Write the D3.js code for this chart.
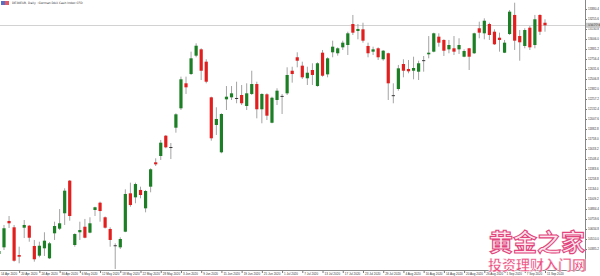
<!DOCTYPE html>
<html>
<head>
<meta charset="utf-8">
<script src="https://cdn.jsdelivr.net/npm/d3@7"></script>
<style>
	body { margin: 0; background: #fff; }
	svg { display: block; font-family: "DejaVu Sans", sans-serif; }
</style>
</head>
<body>
<div id="chart"></div>
<script>
// daily candles, first one is cut off at the left edge (index -1)
const openVals = [10323, 10406, 10735, 10656, 10310, 10651, 10676, 10423, 10302, 10394, 10269, 10581, 10639, 10831, 11238, 10435, 10594, 10663, 10589, 10872,
	10963, 10781, 10635, 10432, 10406, 10601, 11080, 11030, 11122, 10893, 11163, 11467, 11546, 11799, 11658, 11899, 12141, 12453, 12569, 12798,
	12877, 12723, 12278, 11933, 11592, 12253, 12278, 12270, 12307, 12170, 12320, 12444, 12129, 12316, 11961, 12245, 12296, 12328, 12610, 12778,
	12673, 12516, 12619, 12419, 12835, 12565, 12840, 12828, 12902, 12931, 13193, 13106, 13127, 12919, 12848, 12890, 12753, 12828, 12305, 12382,
	12694, 12632, 12610, 12598, 12742, 12815, 12848, 13035, 12994, 12877, 12890, 12877, 12785, 12890, 12828, 13140, 13077, 13193, 13097, 13022,
	12835, 13068, 13306, 13043, 12919, 13147, 12931, 13306, 13209];
const highVals = [10398, 10685, 10797, 10685, 10414, 10747, 10685, 10498, 10476, 10594, 10473, 10726, 10884, 11143, 11246, 10581, 10726, 10760, 10781, 10913,
	10976, 10791, 10656, 10456, 10531, 11130, 11213, 11213, 11163, 11122, 11392, 11517, 11746, 11808, 11708, 12079, 12536, 12536, 12848, 12952,
	12890, 12753, 12286, 12154, 12079, 12419, 12419, 12473, 12432, 12453, 12610, 12473, 12328, 12328, 12286, 12391, 12320, 12653, 12660, 12840,
	12723, 12660, 12703, 12715, 12869, 12778, 12985, 12902, 12985, 13097, 13306, 13193, 13209, 12960, 12910, 12902, 12869, 12835, 12453, 12682,
	12753, 12744, 12785, 12735, 12794, 13043, 13085, 13077, 13002, 12994, 13043, 13015, 12877, 12895, 13085, 13222, 13264, 13209, 13127, 13085,
	12994, 13368, 13459, 13118, 13140, 13168, 13306, 13314, 13252];
const lowVals = [10285, 10373, 10647, 10227, 10207, 10522, 10476, 10227, 10282, 10298, 10260, 10498, 10622, 10685, 10738, 10414, 10498, 10519, 10581, 10797,
	10726, 10641, 10414, 10136, 10385, 10595, 10913, 10956, 11018, 10843, 11093, 11421, 11496, 11642, 11508, 11837, 12120, 12320, 12557, 12778,
	12494, 12453, 11737, 11808, 11580, 12120, 12245, 12204, 12182, 12120, 12307, 12016, 11954, 11995, 11954, 12182, 12070, 12307, 12461, 12653,
	12507, 12432, 12432, 12411, 12536, 12528, 12778, 12798, 12869, 12806, 13056, 13002, 12960, 12778, 12806, 12744, 12735, 12245, 12204, 12361,
	12528, 12578, 12503, 12494, 12598, 12765, 12840, 12910, 12794, 12828, 12806, 12819, 12778, 12619, 12819, 13015, 13002, 12994, 12931, 12848,
	12830, 13056, 12869, 12735, 12890, 12869, 12890, 13056, 13097];
const closeVals = [10360, 10644, 10706, 10239, 10289, 10685, 10526, 10257, 10426, 10489, 10456, 10672, 10706, 11113, 10797, 10572, 10622, 10526, 10706, 10906,
	10859, 10651, 10498, 10432, 10510, 11072, 10934, 11196, 11059, 11109, 11380, 11442, 11712, 11654, 11658, 12066, 12503, 12403, 12765, 12922,
	12610, 12473, 11767, 12008, 12070, 12286, 12328, 12270, 12204, 12328, 12444, 12129, 12320, 12049, 12273, 12361, 12296, 12557, 12569, 12735,
	12528, 12585, 12557, 12703, 12548, 12765, 12910, 12890, 12960, 13077, 13085, 13131, 12985, 12828, 12877, 12778, 12860, 12453, 12305, 12640,
	12610, 12603, 12644, 12703, 12742, 12835, 13077, 12960, 12860, 12931, 12848, 12931, 12856, 12785, 13077, 13085, 13234, 13056, 12940, 12994,
	12960, 13347, 12985, 12965, 13118, 12902, 13252, 13097, 13177];

const dateLabels = ["14 Apr 2020", "20 Apr 2020", "24 Apr 2020", "30 Apr 2020", "6 May 2020", "12 May 2020", "18 May 2020", "22 May 2020",
	"28 May 2020", "3 Jun 2020", "9 Jun 2020", "15 Jun 2020", "19 Jun 2020", "25 Jun 2020", "1 Jul 2020", "7 Jul 2020", "13 Jul 2020",
	"17 Jul 2020", "23 Jul 2020", "29 Jul 2020", "4 Aug 2020", "10 Aug 2020", "14 Aug 2020", "20 Aug 2020", "26 Aug 2020", "1 Sep 2020",
	"7 Sep 2020", "11 Sep 2020"];
const priceTicks = [13380.4, 13255.6, 13130.8, 13006.0, 12881.2, 12756.4, 12631.6, 12506.8, 12382.0, 12257.2, 12132.4, 12007.6, 11882.8,
	11758.0, 11633.2, 11508.4, 11383.6, 11258.8, 11134.0, 11009.2, 10884.4, 10759.6, 10634.8, 10510.0, 10385.2];

const title = "DE30EUR, Daily : German DAX Cash Index CFD";

var width = 600, height = 276;
var plotRight = 585, plotBottom = 270;

var svg = d3.select("#chart").append("svg")
	.attr("width", width)
	.attr("height", height);

var candles = openVals.map((o, i) => ({
	i: i - 1, o: o, h: highVals[i], l: lowVals[i], c: closeVals[i]
}));

var x = d3.scaleLinear().domain([-1, 107]).range([-1.06, 545]);
var y = d3.scaleLinear().domain([10385.2, 13380.4]).range([249, 9]);

svg.append("defs").append("clipPath").attr("id", "plot")
	.append("rect").attr("x", 0).attr("y", 0).attr("width", plotRight).attr("height", plotBottom);

var plot = svg.append("g").attr("clip-path", "url(#plot)");

// bid line
var last = closeVals[closeVals.length - 1];
plot.append("line")
	.attr("x1", 0).attr("x2", plotRight)
	.attr("y1", Math.round(y(last)) + 0.5).attr("y2", Math.round(y(last)) + 0.5)
	.attr("stroke", "#d2d2d2").attr("stroke-width", 1);

var g = plot.selectAll("g.candle").data(candles).enter()
	.append("g").attr("class", "candle");

g.append("line")
	.attr("x1", d => x(d.i)).attr("x2", d => x(d.i))
	.attr("y1", d => y(d.h)).attr("y2", d => y(d.l))
	.attr("stroke", "#9a9a9a").attr("stroke-width", 0.9);

function bodyColor(d) {
	if (Math.abs(d.o - d.c) < 10) return "#3a3a3a";
	return d.c > d.o ? "#1d7f25" : "#e11f1f";
}

g.append("rect")
	.attr("x", d => x(d.i) - 1.6)
	.attr("width", 3.2)
	.attr("y", d => y(Math.max(d.o, d.c)))
	.attr("height", d => Math.max(1, y(Math.min(d.o, d.c)) - y(Math.max(d.o, d.c))))
	.attr("fill", bodyColor);

// price axis on the right
var yAxis = d3.axisRight(y).tickValues(priceTicks).tickSize(2).tickFormat(d3.format(".1f"));
var ya = svg.append("g").attr("transform", "translate(" + plotRight + ",0)").call(yAxis);
ya.select(".domain").remove();
ya.selectAll("line").attr("stroke", "#777");
ya.selectAll("text").attr("x", 3).attr("font-size", 3).attr("fill", "#333");

svg.append("line")
	.attr("x1", plotRight + 0.5).attr("x2", plotRight + 0.5)
	.attr("y1", 0).attr("y2", plotBottom + 0.5)
	.attr("stroke", "#888");

// bid label
var by = y(last);
svg.append("rect")
	.attr("x", plotRight + 1).attr("y", by - 2.5).attr("width", 14).attr("height", 5)
	.attr("fill", "#c8c8c8");
svg.append("text")
	.attr("x", plotRight + 3).attr("y", by + 1)
	.attr("font-size", 3).attr("fill", "#222")
	.text(last.toFixed(1));

// time axis
var tickIdx = dateLabels.map((d, k) => -1 + k * 4);
var xAxis = d3.axisBottom(x).tickValues(tickIdx).tickSize(3).tickFormat((d, k) => dateLabels[k]);
var xa = svg.append("g").attr("transform", "translate(0," + plotBottom + ")").call(xAxis);
xa.select(".domain").remove();
xa.selectAll("line").attr("stroke", "#777");
xa.selectAll("text")
	.attr("text-anchor", "start").attr("x", 1.5).attr("y", 2.5).attr("dy", "0.71em")
	.attr("font-size", 3).attr("fill", "#333");

svg.append("line")
	.attr("x1", 0).attr("x2", plotRight + 0.5)
	.attr("y1", plotBottom + 0.5).attr("y2", plotBottom + 0.5)
	.attr("stroke", "#888");

// header
svg.append("rect").attr("x", 1).attr("y", 1).attr("width", 4).attr("height", 4).attr("fill", "#5a6fc0");
svg.append("rect").attr("x", 5).attr("y", 1).attr("width", 4).attr("height", 4).attr("fill", "#e05a6a");
svg.append("text")
	.attr("x", 12).attr("y", 4.2)
	.attr("font-size", 3).attr("fill", "#333")
	.text(title);

// watermark
svg.append("text")
	.attr("x", 537).attr("y", 251)
	.attr("text-anchor", "middle")
	.attr("font-family", "Noto Sans CJK SC")
	.attr("font-size", 24).attr("font-weight", "bold")
	.attr("fill", "#fde6ee").attr("stroke", "#e2457c").attr("stroke-width", 1.1)
	.text("黄金之家");
svg.append("text")
	.attr("x", 537).attr("y", 270)
	.attr("text-anchor", "middle")
	.attr("font-family", "Noto Sans CJK SC")
	.attr("font-size", 14).attr("font-weight", "bold")
	.attr("fill", "#ea4a7c").attr("stroke", "#fff").attr("stroke-width", 0.4)
	.text("投资理财入门网");
</script>
</body>
</html>
